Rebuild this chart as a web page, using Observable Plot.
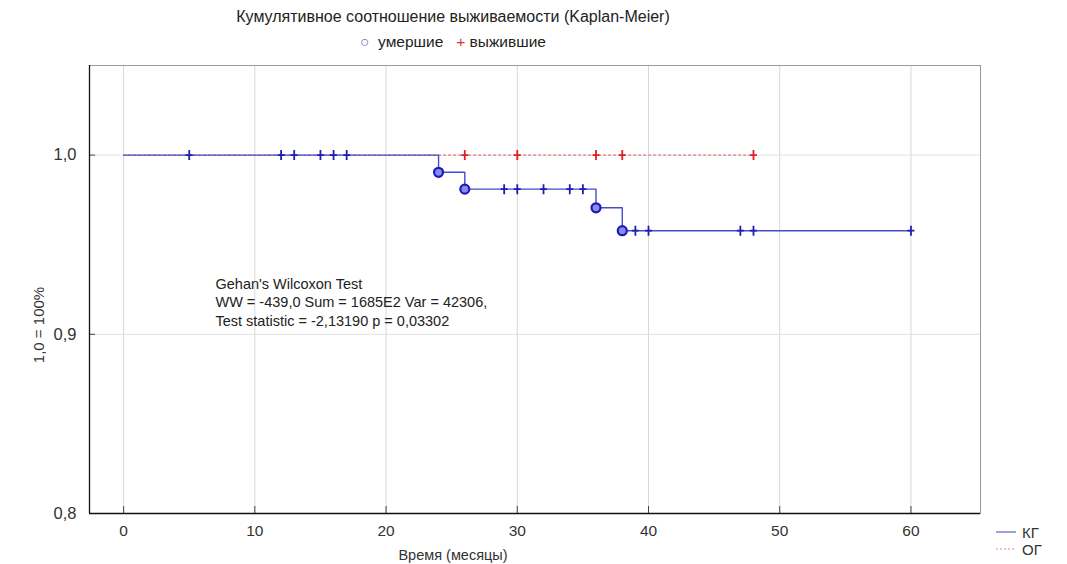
<!DOCTYPE html>
<html>
<head>
<meta charset="utf-8">
<script src="https://cdn.jsdelivr.net/npm/d3@7"></script>
<script src="https://cdn.jsdelivr.net/npm/@observablehq/plot@0.6"></script>
<style>
  html, body { margin: 0; padding: 0; background: #fff; }
  #wrap { position: relative; width: 1067px; height: 564px; font-family: "Liberation Sans", Arial, sans-serif; color: #222; }
  #chart { position: absolute; left: 0; top: 0; }
  .abs { position: absolute; white-space: nowrap; }
</style>
</head>
<body>
<div id="wrap">
  <div id="chart"></div>
  <div class="abs" id="title" style="left:0; width:906px; top:8px; text-align:center; font-size:16px; color:#222;">Кумулятивное соотношение выживаемости (Kaplan-Meier)</div>
  <div class="abs" id="legendTop" style="left:0; width:906px; top:33px; text-align:center; font-size:15.5px; color:#222;"><span style="color:#6a6ab8">○</span>&nbsp; умершие&nbsp;&nbsp; <span style="color:#e03030">+</span> выжившие</div>
  <div class="abs" id="xlabel" style="left:0; width:906px; top:547px; text-align:center; font-size:14.5px; color:#333;">Время (месяцы)</div>
  <div class="abs" id="ylabel" style="left:38px; top:325px; transform: translate(-50%,-50%) rotate(-90deg); font-size:15px; color:#333;">1,0 = 100%</div>
  <svg class="abs" style="left:990px; top:522px;" width="77" height="42">
    <line x1="6" x2="26" y1="10" y2="10" stroke="#8080d0" stroke-width="1.5"/>
    <text x="32" y="15.5" font-size="15" fill="#333" font-family="Liberation Sans, Arial, sans-serif">КГ</text>
    <line x1="6" x2="26" y1="27" y2="27" stroke="#e08a8a" stroke-width="1.2" stroke-dasharray="2,2"/>
    <text x="32" y="32.5" font-size="15" fill="#333" font-family="Liberation Sans, Arial, sans-serif">ОГ</text>
  </svg>
</div>
<script>
// ---- data ----
const kgTime = [0, 24, 26, 36, 38, 60];
const kgSurv = [1.0, 0.9904, 0.9810, 0.9706, 0.9578, 0.9578];
const kgDeathTime = [24, 26, 36, 38];
const kgDeathSurv = [0.9904, 0.9810, 0.9706, 0.9578];
const kgCensTime = [5, 12, 13, 15, 16, 17, 29, 30, 32, 34, 35, 39, 40, 47, 48, 60];
const kgCensSurv = [1, 1, 1, 1, 1, 1, 0.9810, 0.9810, 0.9810, 0.9810, 0.9810, 0.9578, 0.9578, 0.9578, 0.9578, 0.9578];
const ogTime = [0, 48];
const ogSurv = [1.0, 1.0];
const ogCensTime = [26, 30, 36, 38, 48];
const ogCensSurv = [1, 1, 1, 1, 1];
const xTicks = [0, 10, 20, 30, 40, 50, 60];
const yTicks = [0.8, 0.9, 1.0];
const annotationLines = [
  "Gehan's Wilcoxon Test",
  "WW = -439,0 Sum = 1685E2 Var = 42306,",
  "Test statistic = -2,13190 p = 0,03302"
];
const annX = 7.0, annY = 0.9328;

// ---- build ----
const kg = kgTime.map((t, i) => ({t, s: kgSurv[i]}));
const og = ogTime.map((t, i) => ({t, s: ogSurv[i]}));
const kgDeaths = kgDeathTime.map((t, i) => ({t, s: kgDeathSurv[i]}));
const kgCens = kgCensTime.map((t, i) => ({t, s: kgCensSurv[i]}));
const ogCens = ogCensTime.map((t, i) => ({t, s: ogCensSurv[i]}));

const censorSymbol = {
  draw(ctx, size) {
    ctx.moveTo(0, -5); ctx.lineTo(0, 5);
    ctx.moveTo(-3.5, 0); ctx.lineTo(3.5, 0);
  }
};

const W = 1067, H = 564;
const mL = 89, mR = 87, mT = 65, mB = 51;
const innerH = H - mT - mB, innerW = W - mL - mR;

const fmt = d => d.toFixed(1).replace(".", ",");

const chart = Plot.plot({
  width: W, height: H,
  marginLeft: mL, marginRight: mR, marginTop: mT, marginBottom: mB,
  style: {fontFamily: "Liberation Sans, Arial, sans-serif", fontSize: "15px", color: "#333", background: "white"},
  x: {domain: [-2.6, 65.3], ticks: xTicks, label: null},
  y: {domain: [0.8, 1.05], ticks: yTicks, label: null, tickFormat: fmt},
  marks: [
    Plot.gridX(xTicks, {stroke: "#d8d8d8", strokeOpacity: 1}),
    Plot.gridY([0.9, 1.0], {stroke: "#e2e2e2", strokeOpacity: 1}),
    Plot.axisX(xTicks, {tickSize: 0, tickPadding: 11, fontSize: 15.5, fill: "#333", label: null}),
    Plot.axisY(yTicks, {tickSize: 0, tickPadding: 13, fontSize: 16.5, fill: "#333", tickFormat: fmt, label: null}),
    Plot.ruleX(xTicks, {x: d => d, insetTop: innerH - 7, stroke: "#444"}),
    Plot.ruleY(yTicks, {y: d => d, insetRight: innerW - 6, stroke: "#444"}),
    Plot.frame({stroke: "#999"}),
    Plot.ruleX([-2.6], {stroke: "#111", strokeWidth: 1.3}),
    Plot.ruleY([0.8], {stroke: "#111", strokeWidth: 1.3}),
    Plot.line(og, {x: "t", y: "s", curve: "step-after", stroke: "#e07a7a", strokeWidth: 1.2, strokeDasharray: "2,3"}),
    Plot.line(kg, {x: "t", y: "s", curve: "step-after", stroke: "#4a4acc", strokeWidth: 1.4}),
    Plot.dot(ogCens, {x: "t", y: "s", symbol: censorSymbol, r: 5, stroke: "#e02020", strokeWidth: 1.8, fill: "none"}),
    Plot.dot(kgCens, {x: "t", y: "s", symbol: censorSymbol, r: 5, stroke: "#1e1eb0", strokeWidth: 1.8, fill: "none"}),
    Plot.dot(kgDeaths, {x: "t", y: "s", r: 4.5, stroke: "#1a1ab8", strokeWidth: 2.2, fill: "#8a8aec"}),
    Plot.text([annotationLines.join("\n")], {x: annX, y: annY, text: d => d, textAnchor: "start", lineAnchor: "top", fontSize: 14.5, lineHeight: 1.28, fill: "#222"})
  ]
});
document.getElementById("chart").appendChild(chart);
</script>
</body>
</html>
